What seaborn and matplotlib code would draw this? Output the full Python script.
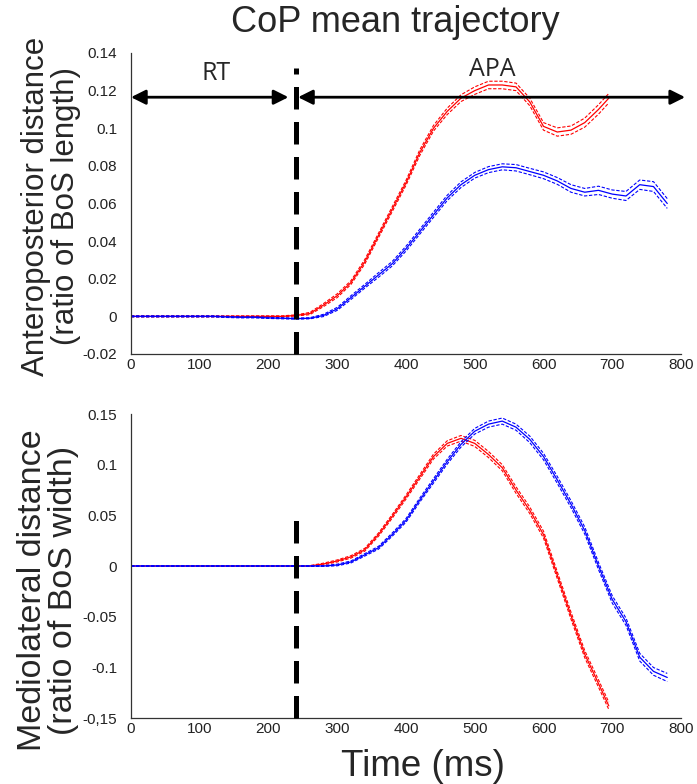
import numpy as np
import pandas as pd
import matplotlib
matplotlib.use("Agg")
import matplotlib.pyplot as plt
import seaborn as sns

# ---------------- data ----------------
# Anteroposterior (top panel)
ap_red_t = [0, 20, 40, 60, 80, 100, 120, 140, 160, 180, 200, 220, 240, 260, 280, 300, 320, 340,
            360, 380, 400, 420, 440, 460, 480, 500, 520, 540, 560, 580, 600, 620, 640, 660, 680, 695]
ap_red_v = [0.0, 0.0, 0.0, 0.0, 0.0, 0.0, 0.0, 0.0, 0.0, 0.0, 0.0, 0.0, 0.0005, 0.0015, 0.006, 0.011,
            0.018, 0.029, 0.043, 0.057, 0.071, 0.087, 0.100, 0.109, 0.116, 0.120, 0.123, 0.123,
            0.122, 0.114, 0.101, 0.098, 0.099, 0.103, 0.110, 0.116]
ap_red_se = [0.0003] * 13 + [0.0006, 0.0008, 0.001, 0.001, 0.0012, 0.0012, 0.0013, 0.0013, 0.0015,
                             0.0015, 0.0017, 0.0018, 0.002, 0.002, 0.002, 0.002, 0.002, 0.002,
                             0.0022, 0.0022, 0.0024, 0.0025, 0.0025]

ap_blue_t = [0, 20, 40, 60, 80, 100, 120, 140, 160, 180, 200, 220, 240, 260, 280, 300, 320, 340,
             360, 380, 400, 420, 440, 460, 480, 500, 520, 540, 560, 580, 600, 620, 640, 660, 680,
             700, 720, 740, 760, 780]
ap_blue_v = [0.0, 0.0, 0.0, 0.0, 0.0, 0.0, 0.0, -0.0003, -0.0005, -0.0005, -0.0008, -0.001, -0.0012,
             -0.001, 0.0005, 0.004, 0.010, 0.016, 0.022, 0.028, 0.036, 0.045, 0.054, 0.063, 0.070,
             0.075, 0.078, 0.0795, 0.079, 0.077, 0.075, 0.072, 0.068, 0.066, 0.067, 0.065, 0.064,
             0.070, 0.069, 0.060]
ap_blue_se = [0.0003] * 14 + [0.0006, 0.0008, 0.001, 0.001, 0.0012, 0.0012, 0.0013, 0.0013, 0.0014,
                              0.0014, 0.0015, 0.0015, 0.0016, 0.0016, 0.0017, 0.0017, 0.0018,
                              0.0018, 0.002, 0.002, 0.0022, 0.0022, 0.0024, 0.0025, 0.0026, 0.0026]

# Mediolateral (bottom panel)
ml_red_t = [0, 20, 40, 60, 80, 100, 120, 140, 160, 180, 200, 220, 240, 260, 280, 300, 320, 340,
            360, 380, 400, 420, 440, 460, 480, 500, 520, 540, 560, 580, 600, 620, 640, 660, 680, 695]
ml_red_v = [0.0, 0.0, 0.0, 0.0, 0.0, 0.0, 0.0, 0.0, 0.0, 0.0, 0.0, 0.0, 0.0, 0.0, 0.002, 0.005,
            0.009, 0.016, 0.031, 0.049, 0.068, 0.088, 0.108, 0.121, 0.126, 0.121, 0.110, 0.097,
            0.075, 0.055, 0.031, -0.009, -0.049, -0.087, -0.116, -0.138]
ml_red_se = [0.0004] * 14 + [0.0008, 0.001, 0.0012, 0.0014, 0.0016, 0.0018, 0.002, 0.0022, 0.0024,
                             0.0026, 0.0028, 0.003, 0.003, 0.003, 0.0032, 0.0032, 0.0034, 0.0034,
                             0.0035, 0.0035, 0.0036, 0.0036]

ml_blue_t = [0, 20, 40, 60, 80, 100, 120, 140, 160, 180, 200, 220, 240, 260, 280, 300, 320, 340,
             360, 380, 400, 420, 440, 460, 480, 500, 520, 540, 560, 580, 600, 620, 640, 660, 680,
             700, 720, 740, 760, 780]
ml_blue_v = [0.0, 0.0, 0.0, 0.0, 0.0, 0.0, 0.0, 0.0, 0.0, 0.0, 0.0, 0.0, 0.0, 0.0, 0.0, 0.001,
             0.004, 0.011, 0.018, 0.031, 0.045, 0.065, 0.084, 0.103, 0.120, 0.133, 0.140, 0.143,
             0.137, 0.125, 0.108, 0.085, 0.061, 0.035, 0.000, -0.033, -0.055, -0.090, -0.104, -0.110]
ml_blue_se = [0.0004] * 15 + [0.0008, 0.001, 0.0012, 0.0014, 0.0016, 0.0018, 0.002, 0.0022, 0.0024,
                              0.0026, 0.0028, 0.003, 0.003, 0.003, 0.0032, 0.0032, 0.0034, 0.0034,
                              0.0035, 0.0035, 0.0036, 0.0036, 0.0038, 0.0038, 0.004]

top_yticks = [-0.02, 0, 0.02, 0.04, 0.06, 0.08, 0.1, 0.12, 0.14]
top_yticklabels = ["-0.02", "0", "0.02", "0.04", "0.06", "0.08", "0.1", "0.12", "0.14"]
bot_yticks = [-0.15, -0.1, -0.05, 0, 0.05, 0.1, 0.15]
bot_yticklabels = ["-0,15", "-0.1", "-0.05", "0", "0.05", "0.1", "0.15"]
xticks = [0, 100, 200, 300, 400, 500, 600, 700, 800]

RT_END = 240

# ---------------- style ----------------
sns.set_style("white")
plt.rcParams["font.family"] = ["Liberation Sans Narrow", "Liberation Sans", "DejaVu Sans"]

W, H = 697, 784
fig = plt.figure(figsize=(W / 100, H / 100), dpi=100)
ax1 = fig.add_axes([131 / W, 1 - 354 / H, 550 / W, 301 / H])
ax2 = fig.add_axes([131 / W, 1 - 718 / H, 550 / W, 304 / H])


def draw(ax, t, v, se, color):
    t = np.asarray(t, float)
    v = np.asarray(v, float)
    se = np.asarray(se, float)
    df = pd.DataFrame({"t": t, "mean": v, "lo": v - se, "hi": v + se})
    sns.lineplot(data=df, x="t", y="mean", ax=ax, color=color, lw=0.9)
    for col in ("lo", "hi"):
        sns.lineplot(data=df, x="t", y=col, ax=ax, color=color, lw=0.8,
                     dashes=False, linestyle=(0, (3, 1.5)))


draw(ax1, ap_red_t, ap_red_v, ap_red_se, "#ff0000")
draw(ax1, ap_blue_t, ap_blue_v, ap_blue_se, "#0000ff")
draw(ax2, ml_red_t, ml_red_v, ml_red_se, "#ff0000")
draw(ax2, ml_blue_t, ml_blue_v, ml_blue_se, "#0000ff")

tick_font = {"family": ["Liberation Sans Narrow", "Liberation Sans", "DejaVu Sans"], "size": 11}
label_font = ["Liberation Sans", "DejaVu Sans"]

for ax, yt, ytl, ylim in ((ax1, top_yticks, top_yticklabels, (-0.02, 0.14)),
                          (ax2, bot_yticks, bot_yticklabels, (-0.15, 0.15))):
    ax.set_xlim(0, 800)
    ax.set_ylim(*ylim)
    ax.set_xticks(xticks)
    ax.set_xticklabels([str(x) for x in xticks], fontdict=tick_font, color="#222222")
    ax.set_yticks(yt)
    ax.set_yticklabels(ytl, fontdict=tick_font, color="#222222")
    ax.tick_params(direction="in", length=5, width=0.8, color="#333333")
    ax.tick_params(axis="y", pad=10)
    ax.tick_params(axis="x", pad=3)
    for s in ("top", "right"):
        ax.spines[s].set_visible(False)
    for s in ("left", "bottom"):
        ax.spines[s].set_color("#333333")
        ax.spines[s].set_linewidth(0.9)
    ax.set_xlabel("")

# dashed vertical lines (reaction time boundary)
ax1.plot([RT_END, RT_END], [-0.02, 0.132], color="black", lw=3.6, dashes=(4.5, 2.5), zorder=5,
         clip_on=False)
ax2.plot([RT_END, RT_END], [-0.15, 0.05], color="black", lw=3.6, dashes=(4.5, 2.5), zorder=5,
         clip_on=False)

# arrows and annotations
ARROW_Y = 0.1165
ax1.annotate("", xy=(0, ARROW_Y), xytext=(229, ARROW_Y),
             arrowprops=dict(arrowstyle="<|-|>", color="black", lw=2, mutation_scale=22,
                             shrinkA=0, shrinkB=0), annotation_clip=False)
ax1.annotate("", xy=(243, ARROW_Y), xytext=(806, ARROW_Y),
             arrowprops=dict(arrowstyle="<|-|>", color="black", lw=2, mutation_scale=22,
                             shrinkA=0, shrinkB=0), annotation_clip=False)
ax1.text(124, 0.129, "RT", ha="center", va="center", fontsize=18,
         family=["Open Sans", "DejaVu Sans"])
ax1.text(525, 0.131, "APA", ha="center", va="center", fontsize=18,
         family=["Open Sans", "DejaVu Sans"])

ax1.set_ylabel("Anteroposterior distance\n(ratio of BoS length)", fontsize=22.5,
               family=label_font, linespacing=1.0, va="center")
ax2.set_ylabel("Mediolateral distance\n(ratio of BoS width)", fontsize=24.5,
               family=label_font, linespacing=1.0, va="center")
ax1.yaxis.set_label_coords((51 - 131) / 550, (354 - 206) / 301)
ax2.yaxis.set_label_coords((48 - 131) / 550, (718 - 590) / 304)

fig.text(423 / W, 1 - 766 / H, "Time (ms)", ha="center", va="center", fontsize=26.5,
         family=label_font)
fig.text(395 / W, 1 - 22 / H, "CoP mean trajectory", ha="center", va="center", fontsize=26,
         family=label_font)

fig.savefig("out.png", dpi=100)
